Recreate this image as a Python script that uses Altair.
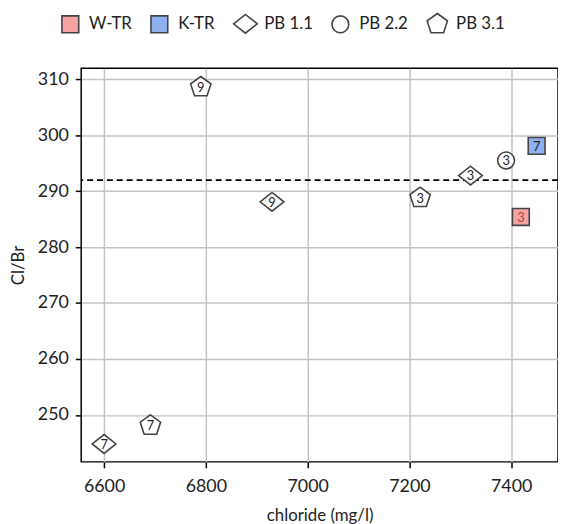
import altair as alt
import pandas as pd

series = ["W-TR", "K-TR", "PB 1.1", "PB 1.1", "PB 1.1", "PB 2.2", "PB 3.1", "PB 3.1", "PB 3.1"]
chloride = [7419, 7450, 6600, 6930, 7320, 7390, 6691, 6790, 7221]
clbr = [285.4, 298.1, 244.8, 288.1, 292.8, 295.5, 248.1, 308.6, 288.8]
labels = ["3", "7", "7", "9", "3", "3", "7", "9", "3"]
ref_line = [292.0]

legend_order = ["W-TR", "K-TR", "PB 1.1", "PB 2.2", "PB 3.1"]
fills = ["#f4a3a3", "#8fb0f0", "white", "white", "white"]
strokes = ["#444444"] * 5
x_ticks = [6600, 6800, 7000, 7200, 7400]
y_ticks = [250, 260, 270, 280, 290, 300, 310]

SQUARE = "M-0.85,-0.85L0.85,-0.85L0.85,0.85L-0.85,0.85Z"
DIAMOND = "M-1.2,0L0,-0.95L1.2,0L0,0.95Z"
CIRCLE = "M-0.85,0A0.85,0.85,0,1,1,0.85,0A0.85,0.85,0,1,1,-0.85,0Z"
PENTAGON = "M0,-1.08L1.027,-0.334L0.635,0.874L-0.635,0.874L-1.027,-0.334Z"
shapes = [SQUARE, SQUARE, DIAMOND, CIRCLE, PENTAGON]

df = pd.DataFrame({"series": series, "chloride": chloride, "clbr": clbr, "label": labels})
df_ref = pd.DataFrame({"y": ref_line})

FONT = "Lato"

xs = alt.Scale(domain=[6555, 7492], nice=False, zero=False)
ys = alt.Scale(domain=[241.6, 312.0], nice=False, zero=False)

x_enc = alt.X("chloride:Q", scale=xs,
              axis=alt.Axis(title="chloride (mg/l)", values=x_ticks, format="d"))
y_enc = alt.Y("clbr:Q", scale=ys,
              axis=alt.Axis(title="Cl/Br", values=y_ticks, format="d"))

points = alt.Chart(df).mark_point(
    filled=True, strokeWidth=1.6, opacity=1, size=400
).encode(
    x=x_enc,
    y=y_enc,
    shape=alt.Shape("series:N", scale=alt.Scale(domain=legend_order, range=shapes),
                    legend=alt.Legend(title=None)),
    fill=alt.Fill("series:N", scale=alt.Scale(domain=legend_order, range=fills),
                  legend=alt.Legend(title=None)),
    stroke=alt.Stroke("series:N", scale=alt.Scale(domain=legend_order, range=strokes),
                      legend=alt.Legend(title=None)),
)

texts = alt.Chart(df).mark_text(
    fontSize=13, font=FONT, baseline="middle", align="center", dy=1
).encode(
    x=alt.X("chloride:Q", scale=xs),
    y=alt.Y("clbr:Q", scale=ys),
    text="label:N",
    color=alt.condition(alt.datum.series == "W-TR", alt.value("#b0443f"), alt.value("#222222")),
)

rule = alt.Chart(df_ref).mark_rule(
    color="black", strokeDash=[6, 4], strokeWidth=1.8
).encode(y=alt.Y("y:Q", scale=ys))

chart = alt.layer(rule, points, texts).properties(
    width=482,
    height=398,
    autosize=alt.AutoSizeParams(type="none"),
    padding={"left": 74, "top": 58, "right": 0, "bottom": 62},
).configure_view(
    stroke="black", strokeWidth=1.5
).configure_axis(
    labelFont=FONT, titleFont=FONT, labelFontSize=18, titleFontSize=17,
    labelColor="#222222", titleColor="#222222", titleFontWeight="normal",
    grid=True, gridColor="#c4c4c4", gridWidth=1.5,
    domain=False, tickColor="black", tickSize=6, tickWidth=1.5,
    labelPadding=7,
).configure_axisX(
    titlePadding=12, labelPadding=10
).configure_axisY(
    titlePadding=10
).configure_legend(
    orient="none", legendX=-22, legendY=-56, direction="horizontal",
    labelFont=FONT, labelFontSize=17, labelColor="#222222",
    symbolSize=400, symbolStrokeColor="#444444", symbolStrokeWidth=1.6,
    labelOffset=8, columnPadding=15,
)

chart.save("out.html", embed_options={"renderer": "svg", "actions": False})
